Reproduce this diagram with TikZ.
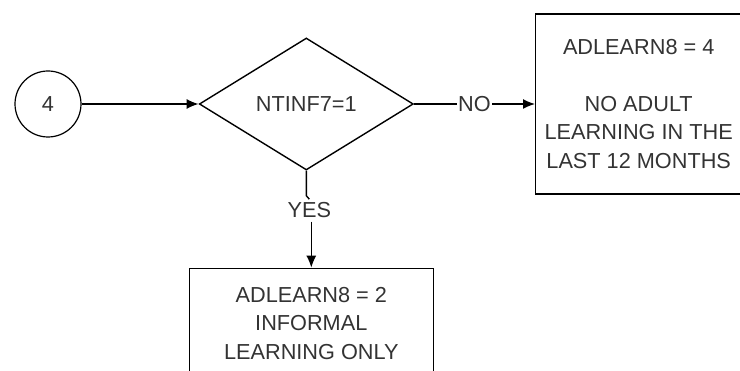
\documentclass[tikz,border=0pt]{standalone}
\usepackage{fontspec}
\setmainfont{Liberation Sans}
\usetikzlibrary{shapes.geometric, arrows.meta, positioning}

\begin{document}
\begin{tikzpicture}[
  x=1pt, y=1pt,
  node distance=100pt and 100pt,
  every node/.style={font=\fontsize{21.7}{28.5}\selectfont, text=black!80},
  box/.style={rectangle, draw, line width=1.4pt, align=center, inner sep=0pt},
  decision/.style={diamond, draw, line width=1.4pt, minimum width=214pt, minimum height=132pt, inner sep=0pt},
  connector/.style={circle, draw, line width=1.2pt, minimum size=66pt, inner sep=0pt},
  arrow/.style={-{Latex[length=12pt,width=10pt]}, line width=1.4pt},
  line/.style={line width=1.4pt},
  lbl/.style={fill=white, inner sep=1.5pt}
]
\useasboundingbox (0,0) rectangle (740,371);
\clip (0,0) rectangle (740,371);

\node (start) [connector] at (48,267) {4};
\node (check) [decision, right=117pt of start] {NTINF7=1};

\node (none) [box, right=121pt of check, minimum width=206pt, minimum height=180pt] {ADLEARN8 = 4\\ \\NO ADULT\\LEARNING IN THE\\LAST 12 MONTHS};

\node (yes) [below=28.5pt of check, xshift=3pt] {YES};
\node (informal) [box, below=97pt of check, xshift=5pt, minimum width=244pt, minimum height=110pt] {ADLEARN8 = 2\\INFORMAL\\LEARNING ONLY};

\draw [arrow] (start) -- (check);
\draw [arrow] (check.east) -- node[lbl] {NO} (check.east -| none.west);
\draw [line] (check.south) -- ++(0,-25) -- (yes.north);
\draw [arrow] (yes.south -| informal.north) -- (informal.north);

\end{tikzpicture}
\end{document}
